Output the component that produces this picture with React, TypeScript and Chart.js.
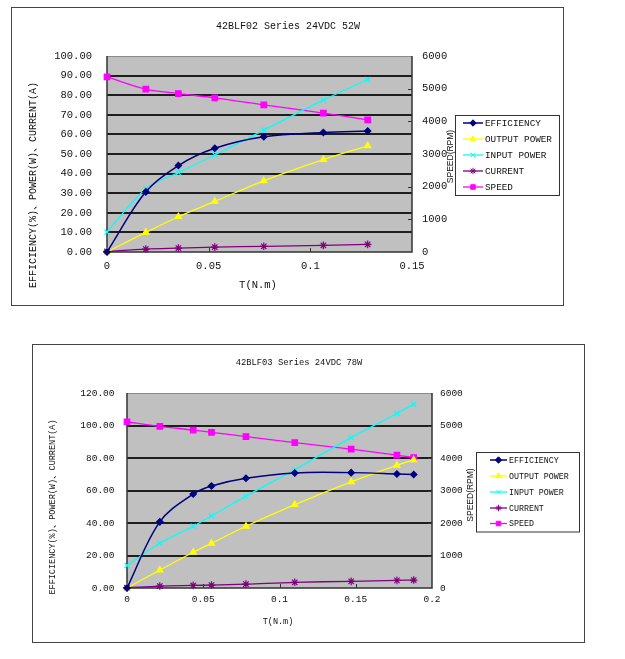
import React, { useEffect, useRef } from "react";
import { Chart, registerables } from "chart.js";
import { drawPoint } from "chart.js/helpers";

Chart.register(...registerables);

// ---------- shared labels ----------
const seriesNames = ["EFFICIENCY", "OUTPUT POWER", "INPUT POWER", "CURRENT", "SPEED"];
const yAxisTitle = "EFFICIENCY(%)、POWER(W)、CURRENT(A)";
const y1AxisTitle = "SPEED(RPM)";
const xAxisTitle = "T(N.m)";
const speedTicks = [0, 1000, 2000, 3000, 4000, 5000, 6000];

// ---------- chart 1 : 42BLF02 ----------
const title1 = "42BLF02 Series 24VDC 52W";
const torque1 = [0, 0.0191, 0.0351, 0.053, 0.0771, 0.1064, 0.1282];
const efficiency1 = [0, 30.7, 44.1, 52.9, 58.8, 61.0, 61.7];
const outputPower1 = [0, 10.0, 18.0, 25.8, 36.3, 47.1, 54.2];
const inputPower1 = [10.2, 32.3, 40.5, 49.5, 62.2, 77.5, 88.0];
const current1 = [0.3, 1.5, 2.0, 2.5, 2.9, 3.4, 3.9];
const speed1 = [5360, 4985, 4850, 4720, 4505, 4250, 4045];
const xTicks1 = [0, 0.05, 0.1, 0.15];
const yTicks1 = [0, 10, 20, 30, 40, 50, 60, 70, 80, 90, 100];

// ---------- chart 2 : 42BLF03 ----------
const title2 = "42BLF03 Series 24VDC 78W";
const torque2 = [0, 0.0215, 0.0434, 0.0554, 0.078, 0.11, 0.147, 0.177, 0.188];
const efficiency2 = [0, 40.7, 57.8, 62.8, 67.5, 70.8, 71.0, 70.2, 69.8];
const outputPower2 = [0, 11.0, 22.0, 27.5, 38.0, 51.3, 65.3, 75.5, 78.9];
const inputPower2 = [13.8, 27.5, 38.0, 44.3, 56.5, 72.8, 92.5, 107.4, 113.1];
const current2 = [0.2, 1.2, 1.6, 1.8, 2.4, 3.5, 4.1, 4.7, 4.9];
const speed2 = [5115, 4975, 4860, 4790, 4660, 4475, 4270, 4090, 4015];
const xTicks2 = [0, 0.05, 0.1, 0.15, 0.2];
const yTicks2 = [0, 20, 40, 60, 80, 100, 120];

// ---------- styles ----------
const MONO = "'Liberation Mono', 'Noto Sans CJK SC', monospace";
const SANS = "'Liberation Sans', Arial, sans-serif";
const seriesColors = ["#000080", "#FFFF00", "#00FFFF", "#800080", "#FF00FF"];
const seriesPoints = ["rectRot", "triangle", "crossRot", "star", "rect"];
const seriesRadius = [3.2, 3.6, 3.6, 3.8, 3.9];
const seriesWidth = [1.5, 1.3, 1.3, 1.3, 1.3];

type Spec = {
  left: number; top: number; w: number; h: number;
  area: { l: number; r: number; t: number; b: number };
  title: string; titlePos: [number, number]; titleSize: number;
  torque: number[]; series: number[][];
  xTicks: number[]; yTicks: number[];
  tickSize: number; padX: number; padY: number; padY1: number;
  yTitlePos: [number, number]; yTitleSize: number;
  y1TitlePos: [number, number];
  xTitlePos: [number, number]; xTitleSize: number;
  legend: { box: [number, number, number, number]; rows: number[]; line: [number, number]; marker: number; text: number; size: number };
};

const spec1: Spec = {
  left: 11, top: 7, w: 553, h: 299,
  area: { l: 96, r: 401, t: 49, b: 245 },
  title: title1, titlePos: [277, 19], titleSize: 10,
  torque: torque1, series: [efficiency1, outputPower1, inputPower1, current1, speed1],
  xTicks: xTicks1, yTicks: yTicks1,
  tickSize: 10.5, padX: 7.5, padY: 15, padY1: 10,
  yTitlePos: [22, 178], yTitleSize: 10,
  y1TitlePos: [439.5, 149.5],
  xTitlePos: [247, 278], xTitleSize: 10.5,
  legend: { box: [444, 107.5, 104, 80], rows: [116, 132, 148, 164, 180], line: [452, 472], marker: 462, text: 474, size: 9.3 },
};

const spec2: Spec = {
  left: 32, top: 344, w: 553, h: 299,
  area: { l: 95, r: 400, t: 49, b: 244 },
  title: title2, titlePos: [267, 18.5], titleSize: 8.8,
  torque: torque2, series: [efficiency2, outputPower2, inputPower2, current2, speed2],
  xTicks: xTicks2, yTicks: yTicks2,
  tickSize: 9.5, padX: 5.5, padY: 12.5, padY1: 8,
  yTitlePos: [20.5, 163], yTitleSize: 8.5,
  y1TitlePos: [439, 151],
  xTitlePos: [246, 278], xTitleSize: 8.5,
  legend: { box: [444, 107.5, 103, 79.5], rows: [116, 132, 148, 164, 179.5], line: [458, 475], marker: 466.5, text: 477, size: 8.3 },
};

function fmtX(v: number) {
  return String(Number(v.toFixed(3)));
}

function makePlugin(s: Spec) {
  return {
    id: "decor",
    beforeDraw(chart: any) {
      const { ctx, chartArea: a } = chart;
      ctx.save();
      ctx.fillStyle = "#ffffff";
      ctx.fillRect(0, 0, chart.width, chart.height);
      ctx.fillStyle = "#C0C0C0";
      ctx.fillRect(a.left, a.top, a.right - a.left, a.bottom - a.top);
      ctx.restore();
    },
    beforeDatasetsDraw(chart: any) {
      const { ctx, chartArea: a } = chart;
      ctx.save();
      ctx.strokeStyle = "#8a8a8a";
      ctx.lineWidth = 1;
      ctx.beginPath();
      ctx.moveTo(a.left, a.top + 0.5);
      ctx.lineTo(a.right, a.top + 0.5);
      ctx.stroke();
      ctx.strokeStyle = "#333333";
      ctx.lineWidth = 1.5;
      ctx.beginPath();
      ctx.moveTo(a.left, a.top);
      ctx.lineTo(a.left, a.bottom);
      ctx.lineTo(a.right, a.bottom);
      ctx.lineTo(a.right, a.top);
      ctx.stroke();
      // inward tick marks
      ctx.lineWidth = 1;
      const xs = chart.scales.x;
      s.xTicks.slice(1, -1).forEach((v) => {
        const px = Math.round(xs.getPixelForValue(v)) + 0.5;
        ctx.beginPath();
        ctx.moveTo(px, a.bottom);
        ctx.lineTo(px, a.bottom - 4);
        ctx.stroke();
      });
      const ys = chart.scales.y1;
      speedTicks.slice(1, -1).forEach((v) => {
        const py = Math.round(ys.getPixelForValue(v)) + 0.5;
        ctx.beginPath();
        ctx.moveTo(a.right, py);
        ctx.lineTo(a.right - 4, py);
        ctx.stroke();
      });
      ctx.restore();
    },
    afterDraw(chart: any) {
      const { ctx } = chart;
      ctx.save();
      // outer frame
      ctx.strokeStyle = "#444444";
      ctx.lineWidth = 1;
      ctx.strokeRect(0.5, 0.5, chart.width - 1, chart.height - 1);
      ctx.fillStyle = "#111111";
      ctx.textAlign = "center";
      ctx.textBaseline = "middle";
      // title
      ctx.font = `${s.titleSize}px ${MONO}`;
      ctx.fillText(s.title, s.titlePos[0], s.titlePos[1]);
      // x title
      ctx.font = `${s.xTitleSize}px ${MONO}`;
      ctx.fillText(xAxisTitle, s.xTitlePos[0], s.xTitlePos[1]);
      // y title
      ctx.save();
      ctx.translate(s.yTitlePos[0], s.yTitlePos[1]);
      ctx.rotate(-Math.PI / 2);
      ctx.font = `${s.yTitleSize}px ${MONO}`;
      ctx.fillText(yAxisTitle, 0, 0);
      ctx.restore();
      // y1 title
      ctx.save();
      ctx.translate(s.y1TitlePos[0], s.y1TitlePos[1]);
      ctx.rotate(-Math.PI / 2);
      ctx.font = `8.5px ${SANS}`;
      ctx.fillText(y1AxisTitle, 0, 0);
      ctx.restore();
      // legend
      const L = s.legend;
      ctx.strokeStyle = "#333333";
      ctx.lineWidth = 1;
      ctx.strokeRect(Math.round(L.box[0]) + 0.5, Math.round(L.box[1]) + 0.5, L.box[2], L.box[3]);
      chart.data.datasets.forEach((ds: any, i: number) => {
        const y = L.rows[i];
        ctx.strokeStyle = ds.borderColor;
        ctx.lineWidth = ds.borderWidth;
        ctx.beginPath();
        ctx.moveTo(L.line[0], y);
        ctx.lineTo(L.line[1], y);
        ctx.stroke();
        ctx.fillStyle = ds.pointBackgroundColor;
        ctx.strokeStyle = ds.pointBorderColor;
        ctx.lineWidth = 1;
        drawPoint(ctx, { pointStyle: ds.pointStyle, radius: Math.min(ds.pointRadius, 3.2), rotation: 0, borderWidth: 1 }, L.marker, y);
        ctx.fillStyle = "#111111";
        ctx.textAlign = "left";
        ctx.font = `${L.size}px ${MONO}`;
        ctx.fillText(seriesNames[i], L.text, y + 0.5);
      });
      ctx.restore();
    },
  };
}

function buildConfig(s: Spec): any {
  const yMax = s.yTicks[s.yTicks.length - 1];
  const xMax = s.xTicks[s.xTicks.length - 1];
  const tickFont = { family: MONO, size: s.tickSize };
  const datasets = s.series.map((vals, i) => ({
    label: seriesNames[i],
    data: s.torque.map((x, k) => ({ x, y: vals[k] })),
    yAxisID: i === 4 ? "y1" : "y",
    borderColor: seriesColors[i],
    backgroundColor: seriesColors[i],
    pointBackgroundColor: seriesColors[i],
    pointBorderColor: seriesColors[i],
    pointStyle: seriesPoints[i],
    pointRadius: seriesRadius[i],
    pointBorderWidth: 1.2,
    borderWidth: seriesWidth[i],
    tension: 0.35,
    clip: false,
  }));
  return {
    type: "line",
    data: { datasets },
    plugins: [makePlugin(s)],
    options: {
      responsive: false,
      animation: false,
      events: [],
      layout: { padding: { top: s.area.t, left: 0, right: 0, bottom: 0 } },
      plugins: { legend: { display: false }, title: { display: false }, tooltip: { enabled: false } },
      scales: {
        x: {
          type: "linear",
          min: 0,
          max: xMax,
          afterBuildTicks: (sc: any) => { sc.ticks = s.xTicks.map((value) => ({ value })); },
          afterFit: (sc: any) => { sc.height = s.h - s.area.b; },
          grid: { display: false, drawTicks: false },
          border: { display: false },
          ticks: { font: tickFont, color: "#111", padding: s.padX, maxRotation: 0, autoSkip: false, callback: (v: number) => fmtX(v) },
        },
        y: {
          type: "linear",
          position: "left",
          min: 0,
          max: yMax,
          afterBuildTicks: (sc: any) => { sc.ticks = s.yTicks.map((value) => ({ value })); },
          afterFit: (sc: any) => { sc.width = s.area.l; },
          grid: {
            drawTicks: false,
            lineWidth: 2,
            color: (c: any) => (c.tick && (c.tick.value === 0 || c.tick.value === yMax) ? "rgba(0,0,0,0)" : "#1e1e1e"),
          },
          border: { display: false },
          ticks: { font: tickFont, color: "#111", padding: s.padY, callback: (v: number) => Number(v).toFixed(2) },
        },
        y1: {
          type: "linear",
          position: "right",
          min: 0,
          max: 6000,
          afterBuildTicks: (sc: any) => { sc.ticks = speedTicks.map((value) => ({ value })); },
          afterFit: (sc: any) => { sc.width = s.w - s.area.r; },
          grid: { display: false, drawTicks: false },
          border: { display: false },
          ticks: { font: tickFont, color: "#111", padding: s.padY1, callback: (v: number) => String(v) },
        },
      },
    },
  };
}

function MotorChart({ spec }: { spec: Spec }) {
  const ref = useRef<HTMLCanvasElement>(null);
  useEffect(() => {
    const chart = new Chart(ref.current as HTMLCanvasElement, buildConfig(spec));
    return () => chart.destroy();
  }, [spec]);
  return (
    <canvas
      ref={ref}
      width={spec.w}
      height={spec.h}
      style={{ position: "absolute", left: spec.left, top: spec.top, width: spec.w, height: spec.h, display: "block" }}
    />
  );
}

export default function App() {
  return (
    <div style={{ width: 625, height: 659 }}>
      <MotorChart spec={spec1} />
      <MotorChart spec={spec2} />
    </div>
  );
}
